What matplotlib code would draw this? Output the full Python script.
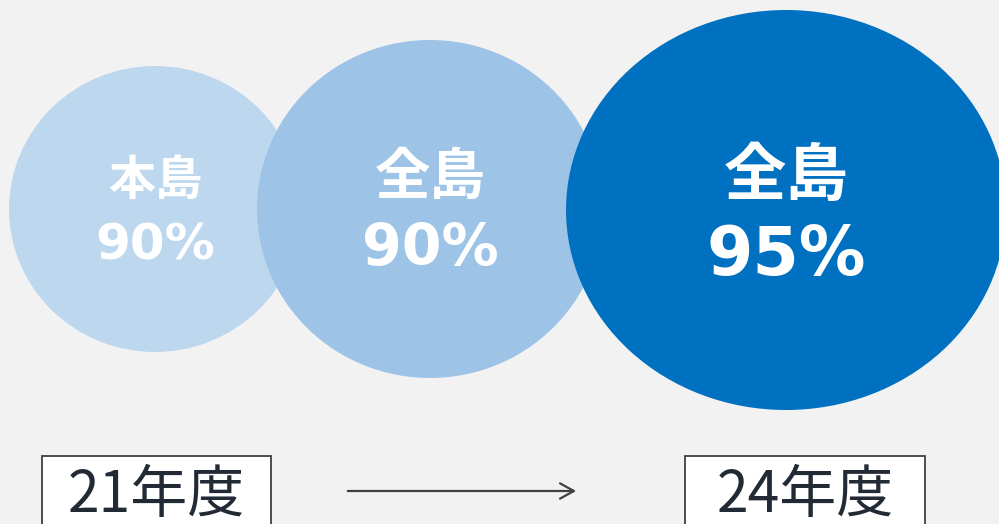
import matplotlib
matplotlib.use("Agg")
import matplotlib.pyplot as plt
from matplotlib.patches import Ellipse, Rectangle

# data
regions = ["本島", "全島", "全島"]
rates = [90, 90, 95]
years = ["21年度", "24年度"]

# layout (pixel coords)
centers = [(155, 209), (430, 209), (786, 210)]
sizes = [(292, 286), (346, 338), (440, 400)]
colors = ["#BDD7EE", "#9DC3E6", "#0070C0"]
name_fs = [34, 40, 45]
pct_fs = [36, 41, 48]

fig = plt.figure(figsize=(9.99, 5.24), dpi=100)
fig.patch.set_facecolor("#F2F2F2")
ax = fig.add_axes([0, 0, 1, 1])
ax.set_xlim(0, 999)
ax.set_ylim(524, 0)
ax.axis("off")

for i in range(len(rates)):
    cx, cy = centers[i]
    w, h = sizes[i]
    ax.add_patch(Ellipse((cx, cy), w, h, facecolor=colors[i], edgecolor="none", zorder=i + 1))
    ax.text(cx, cy - 28 - i * 3, regions[i], ha="center", va="center", color="white",
            fontsize=name_fs[i], fontweight="bold", family=["Noto Sans CJK JP"], zorder=10)
    ax.text(cx, cy + 36 + i * 5, f"{rates[i]}%", ha="center", va="center", color="white",
            fontsize=pct_fs[i], fontweight="bold", family=["DejaVu Sans", "Noto Sans CJK JP"], zorder=10)

# year boxes
boxes = [(42, 271), (685, 925)]
for (x0, x1), label in zip(boxes, years):
    ax.add_patch(Rectangle((x0, 456), x1 - x0, 100, facecolor="white", edgecolor="#404040",
                           linewidth=1.3, zorder=5))
    ax.text((x0 + x1) / 2, 496, label, ha="center", va="center", color="#222A35",
            fontsize=41, fontweight="normal", family=["Noto Sans CJK JP"], zorder=6)

# arrow
ax.annotate("", xy=(579, 491), xytext=(345, 491),
            arrowprops=dict(arrowstyle="->,head_length=1.0,head_width=0.55", color="#404040", lw=1.6))

fig.savefig("out.png", dpi=100, facecolor=fig.get_facecolor())
